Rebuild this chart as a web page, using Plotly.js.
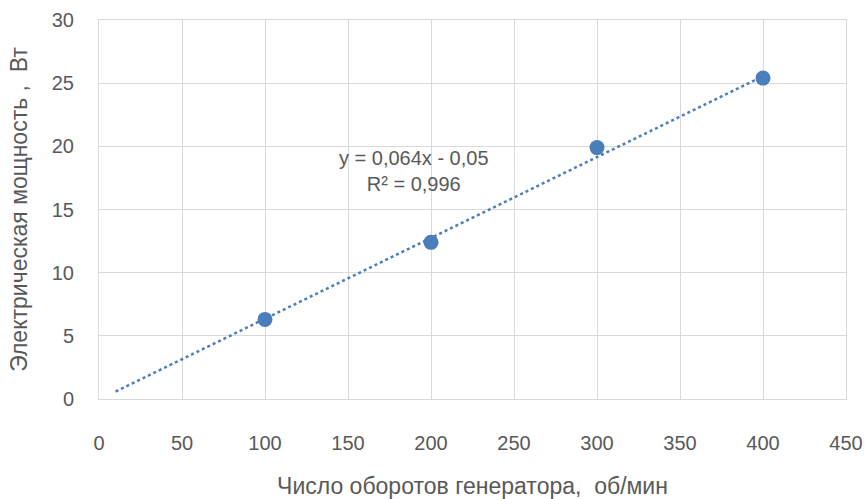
<!DOCTYPE html>
<html>
<head>
<meta charset="utf-8">
<script src="https://cdn.plot.ly/plotly-3.0.1.min.js"></script>
<style>html,body{margin:0;padding:0;background:#fff;}#chart{width:866px;height:499px;}</style>
</head>
<body>
<div id="chart"></div>
<script>
const rpm = [100, 200, 300, 400];
const power = [6.3, 12.4, 19.9, 25.4];
const trendX = [10, 400];
const trendSlope = 0.064;
const trendIntercept = -0.05;
const eqText = "y = 0,064x - 0,05<br>R² = 0,996";
const xTitle = "Число оборотов генератора,  об/мин";
const yTitle = "Электрическая мощность ,  Вт";

const trendY = trendX.map(x => trendSlope * x + trendIntercept);
const blue = "#4a7ebb";
const font = "Liberation Sans, sans-serif";
const txt = "#595959";

const data = [
  {x: trendX, y: trendY, mode: "lines", line: {color: blue, width: 2.5, dash: "dot"}, hoverinfo: "skip", showlegend: false},
  {x: rpm, y: power, mode: "markers", marker: {color: blue, size: 15}, showlegend: false}
];
const layout = {
  width: 866, height: 499,
  margin: {l: 99, r: 20, t: 20, b: 100},
  paper_bgcolor: "#fff", plot_bgcolor: "#fff",
  font: {family: font, color: txt, size: 20},
  xaxis: {range: [0, 450], dtick: 50, showgrid: true, gridcolor: "#d9d9d9", gridwidth: 1,
          showline: true, linecolor: "#d9d9d9", mirror: true, zeroline: false, ticks: "",
          ticklabelstandoff: 26, tickfont: {size: 20, color: txt},
          title: {text: xTitle, font: {size: 23, color: txt}, standoff: 29}},
  yaxis: {range: [0, 30], dtick: 5, showgrid: true, gridcolor: "#d9d9d9", gridwidth: 1,
          showline: true, linecolor: "#d9d9d9", mirror: true, zeroline: false, ticks: "",
          ticklabelstandoff: 20, tickfont: {size: 20, color: txt},
          title: {text: yTitle, font: {size: 23, color: txt}, standoff: 17}},
  annotations: [{x: 190, y: 18.05, xref: "x", yref: "y", text: eqText, showarrow: false,
                 align: "center", font: {size: 20, color: txt}}]
};
Plotly.newPlot("chart", data, layout, {displayModeBar: false, staticPlot: true});
</script>
</body>
</html>
